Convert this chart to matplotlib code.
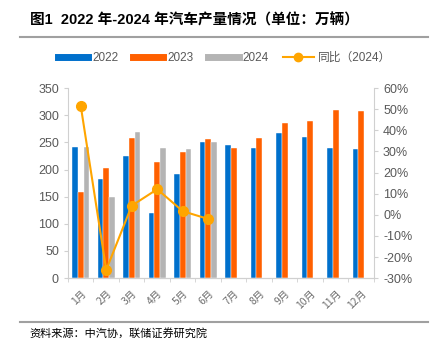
import matplotlib.pyplot as plt
import numpy as np
from matplotlib.lines import Line2D
from matplotlib.ticker import FuncFormatter

plt.rcParams['font.family'] = ['Liberation Sans', 'Noto Sans CJK SC', 'DejaVu Sans']

months = ['1月', '2月', '3月', '4月', '5月', '6月', '7月', '8月', '9月', '10月', '11月', '12月']
prod_2022 = [242, 182, 224, 120, 192, 250, 245, 239, 267, 260, 239, 238]
prod_2023 = [159, 203, 258, 214, 233, 256, 240, 258, 285, 289, 310, 308]
prod_2024 = [241, 150, 269, 240, 237, 251]
yoy_2024 = [51.6, -26.1, 4.3, 12.1, 1.7, -2.0]

blue = '#0070CC'
orange = '#FF6000'
grey = '#B4B4B4'
gold = '#FFA500'
tick_grey = '#595959'
axis_grey = '#D0D0D0'

fig = plt.figure(figsize=(4.4, 3.4), dpi=100)
ax = fig.add_axes([0.1545, 0.182, 0.6955, 0.559])

x = np.arange(len(months))
w = 0.22
ax.bar(x - w, prod_2022, w, color=blue, edgecolor='white', linewidth=0.3)
ax.bar(x, prod_2023, w, color=orange, edgecolor='white', linewidth=0.3)
ax.bar(np.arange(len(prod_2024)) + w, prod_2024, w, color=grey, edgecolor='white', linewidth=0.3)

ax.set_xlim(-0.5, 11.5)
ax.set_ylim(0, 350)
ax.set_yticks(range(0, 351, 50))
ax.set_xticks(x)
ax.set_xticklabels(months, rotation=45, ha='right', rotation_mode='anchor',
                   family=['Noto Sans CJK SC'])
ax.set_xticks(np.arange(-0.5, 12, 1), minor=True)
ax.tick_params(axis='x', which='major', length=0, labelsize=7.5, colors='#6E6E6E', pad=7)
ax.tick_params(axis='x', which='minor', length=3, color=axis_grey)
ax.tick_params(axis='y', length=3, color=axis_grey, labelsize=9, labelcolor=tick_grey)

ax2 = ax.twinx()
ax2.plot(np.arange(len(yoy_2024)), yoy_2024, color=gold, lw=1.5, marker='o', ms=7)
ax2.set_ylim(-30, 60)
ax2.set_yticks(range(-30, 61, 10))
ax2.yaxis.set_major_formatter(FuncFormatter(lambda v, p: f'{v:.0f}%'))
ax2.tick_params(axis='y', length=3, color=axis_grey, labelsize=9, labelcolor=tick_grey)

for a in (ax, ax2):
    a.spines['top'].set_visible(False)
    for s in ('left', 'right', 'bottom'):
        a.spines[s].set_color(axis_grey)
ax.spines['right'].set_visible(False)
ax2.spines['left'].set_visible(False)

handles = [Line2D([], [], color=blue, lw=5),
           Line2D([], [], color=orange, lw=5),
           Line2D([], [], color=grey, lw=5),
           Line2D([], [], color=gold, lw=1.5, marker='o', ms=6)]
labels = ['2022', '2023', '2024', '同比（2024）']
leg = fig.legend(handles, labels, loc='center', bbox_to_anchor=(0.51, 0.829), ncol=4,
                 frameon=False, fontsize=8.5, handlelength=2.6, columnspacing=1.2,
                 handletextpad=0.35)
for t in leg.get_texts():
    t.set_color(tick_grey)

fig.text(0.068, 0.94, '图1  2022 年-2024 年汽车产量情况（单位：万辆）',
         fontsize=10.5, fontweight='bold', va='center', ha='left',
         family=['Liberation Sans', 'Noto Sans CJK SC'])
fig.add_artist(Line2D([0.045, 0.973], [0.89, 0.89], color='#A0A0A0', lw=1.5))
fig.add_artist(Line2D([0.045, 0.973], [0.053, 0.053], color='#A0A0A0', lw=1.5))
fig.text(0.068, 0.02, '资料来源：中汽协，联储证券研究院', fontsize=8, va='center', ha='left',
         family=['Noto Sans CJK SC'])

fig.savefig('out.png', dpi=100)
